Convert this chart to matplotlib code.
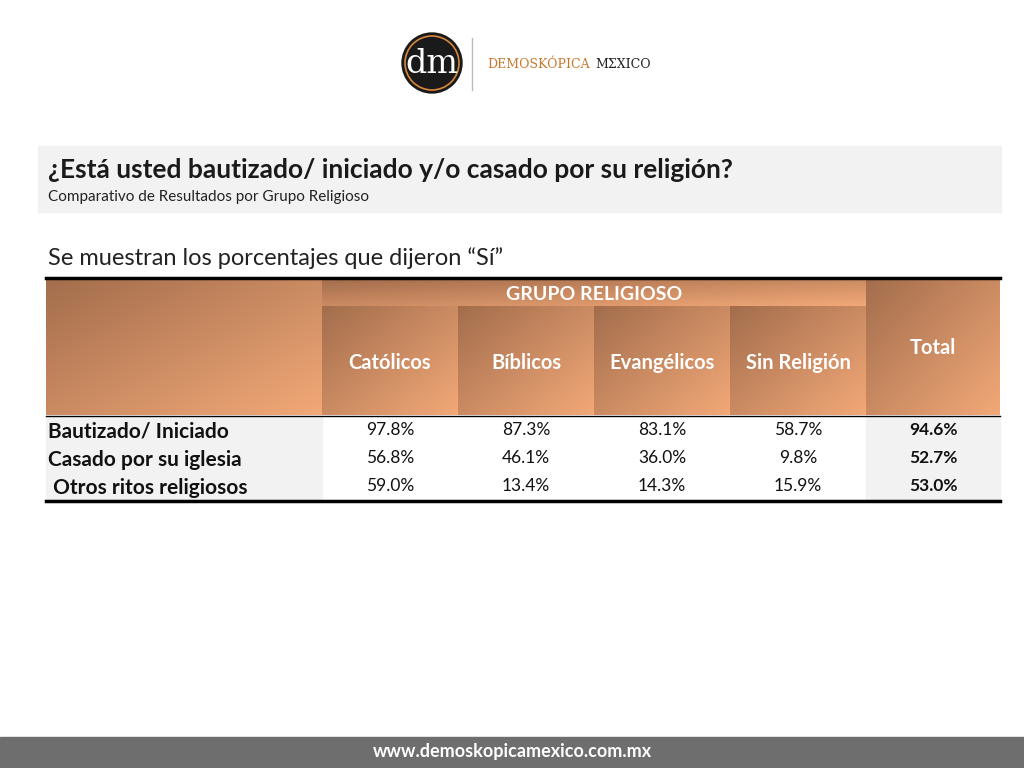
import matplotlib
matplotlib.use("Agg")
import matplotlib.pyplot as plt
import numpy as np
from matplotlib.patches import Rectangle, Circle

groups = ["Católicos", "Bíblicos", "Evangélicos", "Sin Religión"]
rows = ["Bautizado/ Iniciado", "Casado por su iglesia", " Otros ritos religiosos"]
values = [["97.8%", "87.3%", "83.1%", "58.7%"],
          ["56.8%", "46.1%", "36.0%", "9.8%"],
          ["59.0%", "13.4%", "14.3%", "15.9%"]]
totals = ["94.6%", "52.7%", "53.0%"]

plt.rcParams["font.family"] = "Lato"
fig = plt.figure(figsize=(10.24, 7.68), dpi=100)
ax = fig.add_axes([0, 0, 1, 1])
ax.set_xlim(0, 1024); ax.set_ylim(768, 0); ax.axis("off")

dark = np.array([0.64, 0.43, 0.30]); light = np.array([0.95, 0.66, 0.47])
def grad(x0, y0, x1, y1):
    n = 60
    xx, yy = np.meshgrid(np.linspace(0, 1, n), np.linspace(0, 1, n))
    t = np.clip((xx + yy) / 2, 0, 1)[..., None]
    img = dark * (1 - t) + light * t
    ax.imshow(img, extent=(x0, x1, y1, y0), aspect="auto", interpolation="bilinear", zorder=1)

# logo
ax.add_patch(Circle((432, 63), 30, color="#1a1a1a", zorder=2))
ax.add_patch(Circle((432, 63), 27, fill=False, ec="#d8863a", lw=1.2, zorder=3))
ax.text(432, 64, "dm", color="white", fontsize=24, family="DejaVu Serif", ha="center", va="center", zorder=4)
ax.plot([472, 472], [38, 90], color="#bbbbbb", lw=1)
ax.text(487, 64, "DEMOSKÓPICA", color="#c8782c", fontsize=9, family="DejaVu Serif", ha="left", va="center")
ax.text(595, 64, "MΣXICO", color="#222222", fontsize=9, family="DejaVu Serif", ha="left", va="center")

# title box
ax.add_patch(Rectangle((38, 146), 963, 66, color="#f2f2f2", zorder=0))
ax.text(48, 170, "¿Está usted bautizado/ iniciado y/o casado por su religión?", fontsize=19, weight="bold", color="#1a1a1a", va="center")
ax.text(48, 197, "Comparativo de Resultados por Grupo Religioso", fontsize=11, color="#222222", va="center")
ax.text(48, 258, "Se muestran los porcentajes que dijeron “Sí”", fontsize=17, color="#222222", va="center")

# table header
xs = [46, 322, 458, 594, 730, 866, 1000]
grad(46, 279, 322, 415)
grad(322, 279, 866, 306)
for i in range(4):
    grad(xs[i + 1], 306, xs[i + 2], 415)
grad(866, 279, 1000, 415)
ax.text(594, 294, "GRUPO RELIGIOSO", color="white", fontsize=14, weight="bold", ha="center", va="center", zorder=5)
for i, g in enumerate(groups):
    ax.text((xs[i + 1] + xs[i + 2]) / 2, 363, g, color="white", fontsize=14.5, weight="bold", ha="center", va="center", zorder=5)
ax.text(933, 348, "Total", color="white", fontsize=14.5, weight="bold", ha="center", va="center", zorder=5)

# body
ax.add_patch(Rectangle((46, 416), 276, 85, color="#f2f2f2", zorder=0))
ax.add_patch(Rectangle((866, 416), 134, 85, color="#f2f2f2", zorder=0))
ry = [432, 460, 488]
for r, name in enumerate(rows):
    ax.text(48, ry[r], name, fontsize=15, weight="bold", color="#111111", va="center")
    for i in range(4):
        ax.text((xs[i + 1] + xs[i + 2]) / 2, ry[r] - 2, values[r][i], fontsize=12.5, color="#111111", ha="center", va="center")
    ax.text(933, ry[r] - 2, totals[r], fontsize=12.5, weight="bold", color="#111111", ha="center", va="center")

ax.plot([46, 1000], [278, 278], color="black", lw=2.5, zorder=6)
ax.plot([46, 1000], [416, 416], color="black", lw=1, zorder=6)
ax.plot([46, 1000], [501, 501], color="black", lw=2.5, zorder=6)

# footer
ax.add_patch(Rectangle((0, 737), 1024, 31, color="#6e6e6e", zorder=0))
ax.text(512, 752, "www.demoskopicamexico.com.mx", color="white", fontsize=13, weight="bold", ha="center", va="center")

fig.savefig("out.png", dpi=100)
